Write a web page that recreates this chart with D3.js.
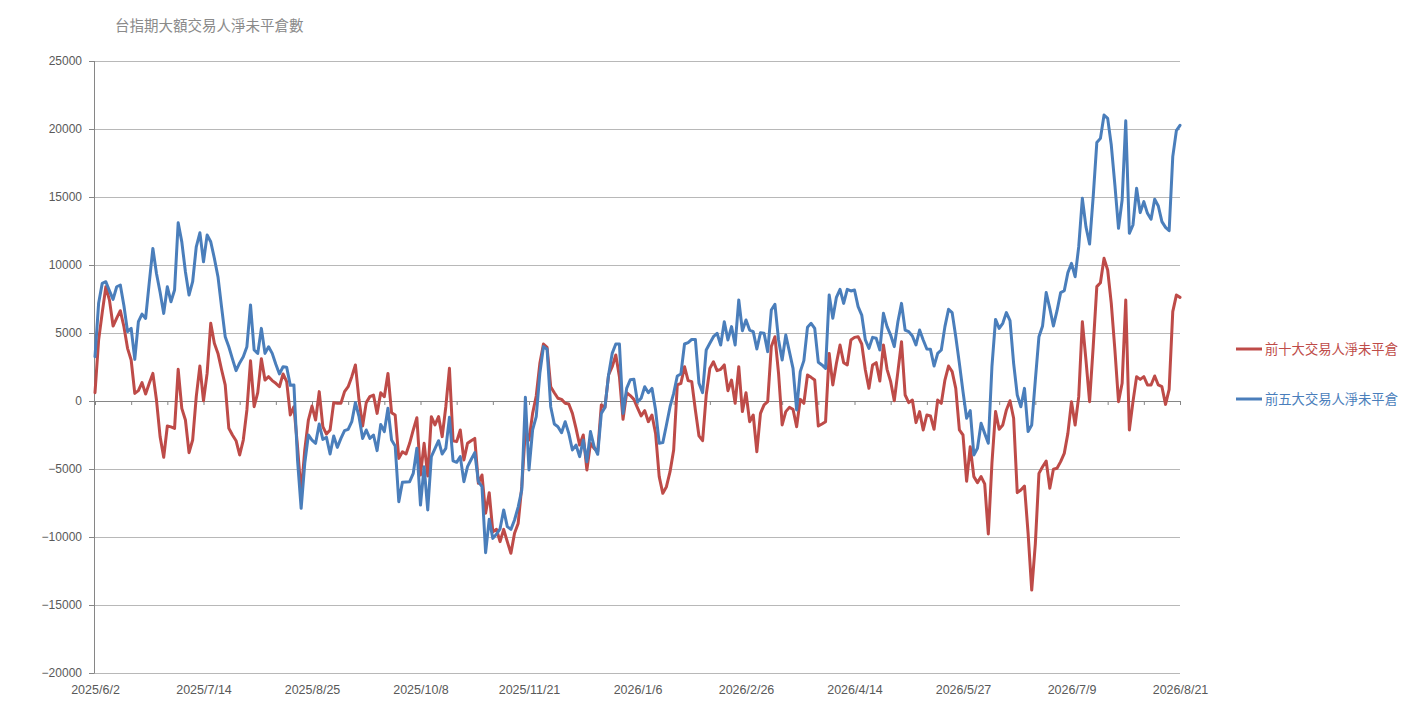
<!DOCTYPE html>
<html>
<head>
<meta charset="utf-8">
<script src="https://cdn.jsdelivr.net/npm/d3@7"></script>
<style>
  html, body { margin: 0; padding: 0; background: #ffffff; }
  svg { display: block; }
</style>
</head>
<body>
<svg id="chart" width="1415" height="711"></svg>
<script>
// ---------------- DATA ----------------
const chartTitle = "台指期大額交易人淨未平倉數";
const seriesNames = ["前十大交易人淨未平倉", "前五大交易人淨未平倉"];
const tickLabels = ["2025/6/2", "2025/7/14", "2025/8/25", "2025/10/8", "2025/11/21", "2026/1/6",
                    "2026/2/26", "2026/4/14", "2026/5/27", "2026/7/9", "2026/8/21"];
const labelEvery = 30;   // category label interval (trading days)
const tickEvery = 10;    // category tick-mark interval
const yTicks = [-20000, -15000, -10000, -5000, 0, 5000, 10000, 15000, 20000, 25000];

// 前十大交易人淨未平倉 (red)
const top10 = [
  610, 4480, 6500, 8400, 7420, 5510, 6100, 6640, 5460, 3870,
  3010, 560, 760, 1350, 510, 1300, 2030, 70, -2620, -4140,
  -1840, -1900, -2010, 2330, -540, -1400, -3800, -2870, 320, 2570,
  20, 2030, 5710, 4240, 3500, 2300, 1180, -2010, -2500, -2920,
  -3970, -2870, -660, 2960, -420, 610, 3110, 1540, 1790, 1500,
  1300, 1050, 1990, 1420, -1030, -420, -3360, -6790, -3600, -1400,
  -370, -1400, 690, -1890, -2430, -2130, -120, -170, -170, 690,
  1050, 1790, 2650, 70, -1840, -120, 320, 440, -910, 610,
  320, 2030, -860, -1030, -4220, -3730, -3900, -3110, -2130, -1230,
  -5440, -3110, -5510, -1150, -1760, -1150, -2620, -420, 2400, -2920,
  -2990, -2130, -4340, -3110, -2920, -2750, -6050, -5440, -8260, -6740,
  -9610, -9440, -10340, -9440, -10340, -11200, -9730, -9000, -6300, -2130,
  -2870, -910, 370, 2770, 4190, 3950, 1050, 610, 200, 120,
  -170, -220, -910, -2010, -3240, -2500, -5070, -3110, -3480, -3730,
  -290, -470, 1910, 2520, 3380, 1790, -1350, 610, 400, 120,
  -500, -1100, -710, -1520, -1030, -2380, -5560, -6790, -6300, -5200,
  -3600, 1180, 1300, 2520, 1500, 1420, -660, -2570, -2920, 440,
  2400, 2890, 2230, 2330, 2650, 760, 1540, -170, 2520, -780,
  610, -1520, -1030, -3730, -910, -290, -50, 4000, 4730, 2030,
  -1760, -780, -470, -610, -1890, 120, -170, 1910, 1740, 1540,
  -1840, -1690, -1520, 3500, 1180, 2770, 4120, 2820, 2650, 4490,
  4680, 4730, 4190, 2280, 930, 2650, 2820, 1470, 4120, 2330,
  1420, 20, 2160, 4360, 440, -120, 70, -1590, -780, -2130,
  -1030, -1100, -2080, 70, -170, 1540, 2570, 2160, 930, -2130,
  -2500, -5900, -3360, -5560, -6000, -5560, -6100, -9780, -4580, -780,
  -2080, -1760, -660, 20, -1270, -6740, -6540, -6250, -9730, -13900,
  -10500, -5320, -4830, -4410, -6420, -5020, -4950, -4460, -3850, -2380,
  -50, -1760, 320, 5830, 3010, -50, 4000, 8410, 8700, 10490,
  9630, 7180, 3750, -50, 1300, 7430, -2130, -50, 1790, 1590,
  1790, 1180, 1180, 1840, 1180, 1050, -250, 860, 6570, 7790,
  7620
];

// 前五大交易人淨未平倉 (blue)
const top5 = [
  3260, 7180, 8650, 8770, 8100, 7470, 8400, 8530, 7000, 5100,
  5340, 3060, 5830, 6390, 6070, 8700, 11220, 9380, 8000, 6440,
  8400, 7300, 8160, 13100, 11700, 9500, 7790, 8770, 11340, 12370,
  10240, 12200, 11710, 10500, 9140, 6900, 4730, 3990, 3100, 2230,
  2800, 3260, 3990, 7060, 3750, 3500, 5340, 3500, 3990, 3500,
  2700, 1990, 2520, 2480, 1150, 1180, -4340, -7890, -4580, -2500,
  -2870, -3110, -1690, -2820, -2670, -3900, -2570, -3410, -2750, -2180,
  -2080, -1520, -120, -1150, -2750, -2130, -2750, -2500, -3650, -1720,
  -2250, -540, -2870, -3310, -7400, -5980, -5950, -5930, -5320, -3480,
  -7650, -4830, -8010, -4090, -3500, -2920, -3900, -3480, -1200, -4400,
  -4510, -4090, -5930, -4830, -4300, -3800, -5930, -6300, -11150, -8700,
  -10100, -9800, -9400, -8010, -9240, -9440, -8750, -7800, -6540, 270,
  -5070, -2130, -1150, 2030, 4000, 3800, -420, -1690, -1890, -2330,
  -1520, -2380, -3600, -3240, -4090, -2870, -4460, -2250, -3360, -3920,
  -910, -470, 1910, 3500, 4190, 4190, -910, 930, 1560, 1600,
  -80, 200, 1050, 610, 930, -660, -3110, -3060, -1760, -420,
  560, 1840, 1990, 4190, 4290, 4530, 4530, 1300, 610, 3750,
  4240, 4730, 4980, 4120, 5830, 4490, 5470, 4120, 7430, 5170,
  5960, 5220, 5100, 3820, 5020, 4980, 3630, 6690, 7110, 4490,
  3010, 4850, 3630, 2400, -660, 2160, 2970, 5420, 5710, 5340,
  2850, 2650, 2400, 7790, 6080, 7620, 8210, 7180, 8210, 8090,
  8160, 6940, 6320, 4490, 3870, 4680, 4610, 3750, 6450, 5470,
  4850, 4000, 5830, 7180, 5220, 5100, 4780, 4120, 5220, 4490,
  3820, 3800, 2570, 3500, 3750, 5470, 6740, 6500, 4730, 2770,
  690, -1270, -710, -3970, -3480, -1640, -2380, -3110, 2520, 6000,
  5340, 5710, 6500, 5910, 2770, 440, -420, 930, -2250, -1760,
  1540, 4730, 5520, 7970, 6810, 5520, 6640, 7970, 8110, 9440,
  10120, 9140, 11350, 14900, 12800, 11540, 15020, 19000, 19310, 21030,
  20780, 18820, 15880, 12700, 14780, 20610, 12330, 12940, 15640, 13850,
  14660, 13800, 13360, 14830, 14340, 13190, 12770, 12520, 17970, 19880,
  20270
];

const seriesData = [top10, top5];
const seriesColors = ["#be4b48", "#4a7ebb"];

// ---------------- CHART ----------------
const svg = d3.select("#chart");
const plot = { left: 95, right: 1180, top: 61, bottom: 673 };
const nPts = top10.length;

const x = d3.scaleLinear().domain([0, nPts - 1]).range([plot.left, plot.right]);
const y = d3.scaleLinear().domain([-20000, 25000]).range([plot.bottom, plot.top]);

svg.append("rect").attr("width", 1415).attr("height", 711).attr("fill", "#ffffff");

// gridlines
svg.append("g")
  .selectAll("line")
  .data(yTicks)
  .join("line")
  .attr("x1", plot.left - 1).attr("x2", plot.right)
  .attr("y1", d => Math.round(y(d)) + 0.5).attr("y2", d => Math.round(y(d)) + 0.5)
  .attr("stroke", "#b8b8b8").attr("stroke-width", 1);

// y axis
const yAxis = svg.append("g")
  .attr("transform", `translate(${plot.left - 1},0)`)
  .call(d3.axisLeft(y).tickValues(yTicks).tickSize(5).tickPadding(7).tickFormat(d3.format("d")));
yAxis.select(".domain").attr("stroke", "#868686").attr("d", `M0.5,${plot.top}V${plot.bottom + 0.5}`);
yAxis.selectAll(".tick line").attr("stroke", "#868686");
yAxis.selectAll("text")
  .attr("fill", "#595959")
  .style("font-family", "'Liberation Sans', Arial, sans-serif")
  .style("font-size", "12px");

// category axis line at zero with tick marks
const catTicks = d3.range(0, nPts, tickEvery);
const zeroAxis = svg.append("g")
  .attr("transform", `translate(0,${Math.round(y(0))})`)
  .call(d3.axisBottom(x).tickValues(catTicks).tickSize(4).tickFormat(""));
zeroAxis.select(".domain").attr("stroke", "#868686").attr("d", `M${plot.left - 1},0.5H${plot.right}`);
zeroAxis.selectAll(".tick line").attr("stroke", "#868686");

// category labels at bottom
const labelIdx = d3.range(0, nPts, labelEvery);
const xLab = svg.append("g")
  .attr("transform", `translate(0,${plot.bottom})`)
  .call(d3.axisBottom(x).tickValues(labelIdx).tickSize(0).tickPadding(12)
    .tickFormat((d, i) => tickLabels[i]));
xLab.select(".domain").remove();
xLab.selectAll("text")
  .attr("fill", "#595959")
  .style("font-family", "'Liberation Sans', Arial, sans-serif")
  .style("font-size", "12.5px");

// lines
const line = d3.line().x((d, i) => x(i)).y(d => y(d));
svg.append("g")
  .selectAll("path")
  .data(seriesData)
  .join("path")
  .attr("d", d => line(d))
  .attr("fill", "none")
  .attr("stroke", (d, i) => seriesColors[i])
  .attr("stroke-width", 3)
  .attr("stroke-linejoin", "round")
  .attr("stroke-linecap", "round");

// title
svg.append("text")
  .attr("x", 115).attr("y", 31)
  .attr("fill", "#8a8a8a")
  .style("font-family", "'Noto Sans CJK TC', sans-serif")
  .style("font-size", "14.5px")
  .text(chartTitle);

// legend
const legendY = [349, 399];
const leg = svg.append("g").selectAll("g").data(seriesNames).join("g")
  .attr("transform", (d, i) => `translate(0,${legendY[i]})`);
leg.append("line")
  .attr("x1", 1236).attr("x2", 1262).attr("y1", 0).attr("y2", 0)
  .attr("stroke", (d, i) => seriesColors[i]).attr("stroke-width", 3);
leg.append("text")
  .attr("x", 1265).attr("y", 0).attr("dy", "0.36em")
  .attr("fill", (d, i) => seriesColors[i])
  .style("font-family", "'Noto Sans CJK TC', sans-serif")
  .style("font-size", "13.3px")
  .text(d => d);
</script>
</body>
</html>
